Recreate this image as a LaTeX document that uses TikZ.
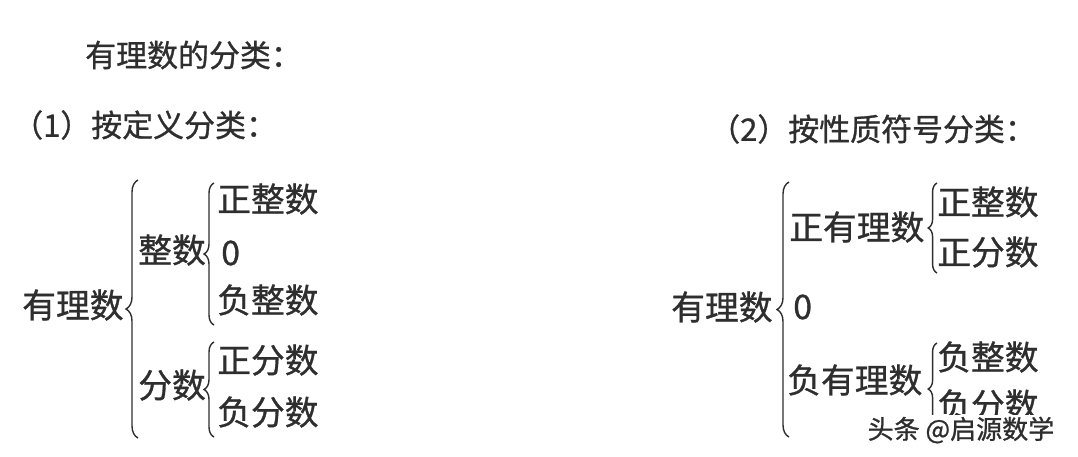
\documentclass[tikz,border=0pt]{standalone}
\usepackage{fontspec}
\setmainfont[FakeBold=0.9]{Noto Sans CJK SC}
\usetikzlibrary{decorations.pathreplacing}
\definecolor{ink}{HTML}{2E2E2E}
\tikzset{
  txt/.style={anchor=west, inner sep=0pt, text=ink, font=\fontsize{24pt}{26pt}\selectfont},
  head/.style={txt, font=\fontsize{22pt}{26pt}\selectfont},
  brc/.style={draw=ink, line width=1pt, decorate, decoration={brace, amplitude=#1}},
  brc/.default=0.25cm
}
\begin{document}
\begin{tikzpicture}[x=0.025cm, y=-0.025cm]
            \useasboundingbox (0,0) rectangle (1078,456);

            % headings
            \node[head] (title) at (85,55) {有理数的分类：};
            \node[head] (bydef) at (12,125) {（1）按定义分类：};
            \node[head] (bysgn) at (709,129) {（2）按性质符号分类：};

            % (1) by definition
            \node[txt] (q) at (22,305) {有理数};
            \node[txt] (zs) at (138,250) {整数};
            \node[txt] (fs) at (138,385) {分数};
            \node[txt] (pz) at (217,199) {正整数};
            \node[txt] (z0) at (221,253) {0};
            \node[txt] (nz) at (217,300) {负整数};
            \node[txt] (pf) at (217,360) {正分数};
            \node[txt] (nf) at (217,412) {负分数};

            \coordinate (qtop) at (138,180);
            \coordinate (qbot) at (138,438);
            \coordinate (zstop) at (214,183);
            \coordinate (zsbot) at (214,325);
            \coordinate (fstop) at (214,342);
            \coordinate (fsbot) at (214,437);
            \path[brc=0.3cm] (qbot) -- (qtop);
            \path[brc] (zsbot) -- (zstop);
            \path[brc] (fsbot) -- (fstop);

            % (2) by sign
            \node[txt] (Q) at (671,307) {有理数};
            \node[txt] (PQ) at (789,227) {正有理数};
            \node[txt] (R0) at (793,307) {0};
            \node[txt] (NQ) at (787,380) {负有理数};
            \node[txt] (PZ) at (937,202) {正整数};
            \node[txt] (PF) at (937,252) {正分数};
            \node[txt] (NZ) at (937,357) {负整数};
            \node[txt] (NF) at (937,405) {负分数};

            \coordinate (Qtop) at (789,182);
            \coordinate (Qbot) at (789,437);
            \coordinate (PQtop) at (937,183);
            \coordinate (PQbot) at (937,273);
            \coordinate (NQtop) at (937,343);
            \coordinate (NQbot) at (937,435);
            \path[brc=0.3cm] (Qbot) -- (Qtop);
            \path[brc=0.22cm] (PQbot) -- (PQtop);
            \path[brc=0.22cm] (NQbot) -- (NQtop);

            % watermark
            \node[txt, fill=white, inner sep=1pt, font=\fontsize{18.5pt}{20pt}\selectfont] (wm) at (866,430) {头条 @启源数学};
        \end{tikzpicture}
\end{document}
